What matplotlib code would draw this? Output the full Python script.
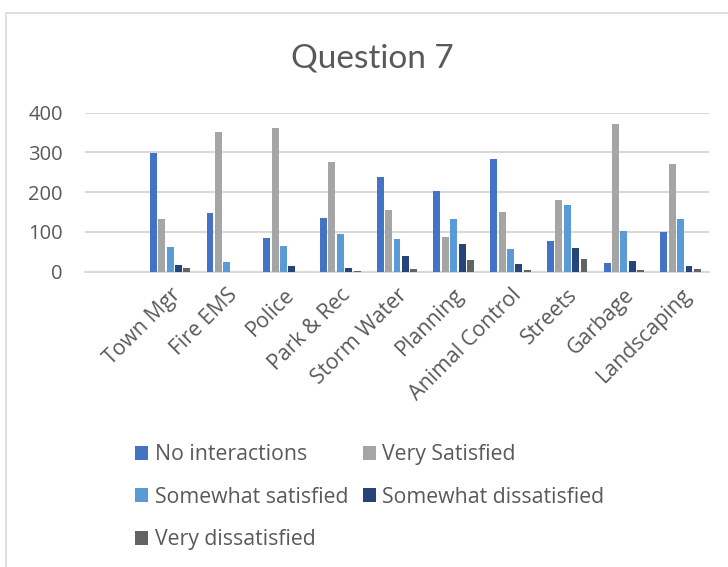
import matplotlib
matplotlib.use("Agg")
import matplotlib.pyplot as plt
import numpy as np
from matplotlib.patches import Rectangle

categories = ["", "Town Mgr", "Fire EMS", "Police", "Park & Rec", "Storm Water",
              "Planning", "Animal Control", "Streets", "Garbage", "Landscaping"]
series_names = ["No interactions", "Very Satisfied", "Somewhat satisfied",
                "Somewhat dissatisfied", "Very dissatisfied"]
no_interactions = [0, 298, 147, 86, 135, 238, 203, 283, 77, 22, 101]
very_satisfied = [0, 132, 351, 362, 276, 156, 88, 150, 180, 372, 272]
somewhat_satisfied = [0, 62, 24, 64, 96, 83, 132, 58, 169, 102, 132]
somewhat_dissatisfied = [0, 16, 0, 14, 10, 40, 69, 20, 60, 26, 15]
very_dissatisfied = [0, 9, 0, 0, 3, 6, 30, 5, 31, 5, 6]
yticks = [0, 100, 200, 300, 400]

colors = ["#4472C4", "#A5A5A5", "#5B9BD5", "#264478", "#636363"]
series = [no_interactions, very_satisfied, somewhat_satisfied,
          somewhat_dissatisfied, very_dissatisfied]

plt.rcParams['font.family'] = ['Open Sans', 'DejaVu Sans']
text_color = "#595959"

fig = plt.figure(figsize=(7.28, 5.67), dpi=100)
W, H = 728, 567
# chart border
fig.patches.append(Rectangle((6 / W, -0.1), 1.2, 1 - 13 / H + 0.1,
                             transform=fig.transFigure, fill=False,
                             edgecolor="#D9D9D9", linewidth=1.2))

ax = fig.add_axes([85 / W, 1 - 271.7 / H, (709 - 85) / W, (271.7 - 112.7) / H])
x = np.arange(len(categories))
n = len(series)
group_w = 0.74
bw = group_w / n
bars = []
for i, (vals, c) in enumerate(zip(series, colors)):
    b = ax.bar(x - group_w / 2 + bw * (i + 0.5), vals, width=bw * 0.82,
               color=c, label=series_names[i], zorder=3)
    bars.append(b)

ax.set_xlim(-0.5, len(categories) - 0.5)
ax.set_ylim(0, 400)
ax.set_yticks(yticks)
ax.set_yticklabels([str(v) for v in yticks], fontsize=14.5, color=text_color)
ax.set_xticks(x)
ax.set_xticklabels(categories, rotation=45, ha="right", rotation_mode="anchor",
                   fontsize=15.3, color=text_color)
ax.tick_params(axis="y", length=0, pad=16)
ax.tick_params(axis="x", length=0, pad=9)
ax.grid(axis="y", color="#D9D9D9", linewidth=1.5, zorder=0)
for s in ["top", "right", "left"]:
    ax.spines[s].set_visible(False)
ax.spines["bottom"].set_color("#D9D9D9")
ax.spines["bottom"].set_linewidth(1.5)

fig.text(372 / W, 1 - 58 / H, "Question 7", ha="center", va="center",
         fontsize=24, color=text_color, family=['Lato', 'DejaVu Sans'])

order = [0, 2, 4, 1, 3]
leg = fig.legend([bars[i] for i in order], [series_names[i] for i in order],
                 ncol=2, loc="upper left", bbox_to_anchor=(116 / W, 1 - 425 / H),
                 frameon=False, fontsize=15.3, handlelength=0.62, handleheight=0.62,
                 handletextpad=0.3, labelspacing=1.02, columnspacing=0.68,
                 labelcolor=text_color)

fig.savefig("out.png", dpi=100)
